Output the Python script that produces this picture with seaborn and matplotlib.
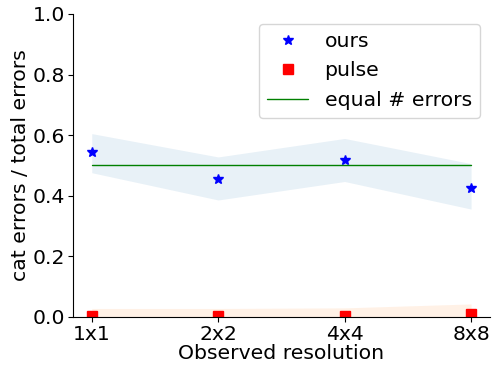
import numpy as np
import pandas as pd
import matplotlib
matplotlib.use("Agg")
import matplotlib.pyplot as plt
import seaborn as sns

resolutions = ['1x1', '2x2', '4x4', '8x8']
ours = [0.544, 0.456, 0.519, 0.427]
ours_lo = [0.476, 0.386, 0.447, 0.356]
ours_hi = [0.605, 0.528, 0.589, 0.506]
pulse = [0.003, 0.003, 0.003, 0.011]
pulse_lo = [0.0, 0.0, 0.0, 0.0]
pulse_hi = [0.028, 0.028, 0.030, 0.043]
equal = [0.5, 0.5, 0.5, 0.5]

sns.set_style('ticks')
plt.rcParams['font.family'] = ['DejaVu Sans']
plt.rcParams['text.color'] = 'black'
plt.rcParams['axes.labelcolor'] = 'black'
plt.rcParams['xtick.color'] = 'black'
plt.rcParams['ytick.color'] = 'black'
fs = 14.7

df = pd.DataFrame({'x': np.arange(len(resolutions)), 'ours': ours,
                   'pulse': pulse, 'equal': equal})

fig, ax = plt.subplots(figsize=(4.92, 3.66), dpi=100)
fig.subplots_adjust(left=0.148, right=0.996, bottom=0.134, top=0.962)

ax.fill_between(df['x'], ours_lo, ours_hi, color='tab:blue', alpha=0.1, lw=0)
ax.fill_between(df['x'], pulse_lo, pulse_hi, color='tab:orange', alpha=0.1, lw=0)
ax.plot(df['x'], df['ours'], linestyle='none', marker='*', color='blue',
        markersize=7, label='ours')
ax.plot(df['x'], df['pulse'], linestyle='none', marker='s', color='red',
        markersize=7, label='pulse')
sns.lineplot(data=df, x='x', y='equal', color='green', lw=1, ax=ax,
             label='equal # errors')

ax.set_ylim(0, 1.0)
ax.set_xticks(df['x'])
ax.set_xticklabels(resolutions)
ax.tick_params(labelsize=fs, length=3.5, width=0.8, pad=2)
ax.set_xlabel('Observed resolution', fontsize=fs, labelpad=0)
ax.set_ylabel('cat errors / total errors', fontsize=fs, labelpad=2)
for s in ['left', 'bottom']:
    ax.spines[s].set_color('black')
    ax.spines[s].set_linewidth(0.8)
sns.despine(ax=ax)
ax.legend(loc='upper right', fontsize=fs, frameon=True, borderaxespad=0.5)

fig.savefig('out.png', dpi=100)
